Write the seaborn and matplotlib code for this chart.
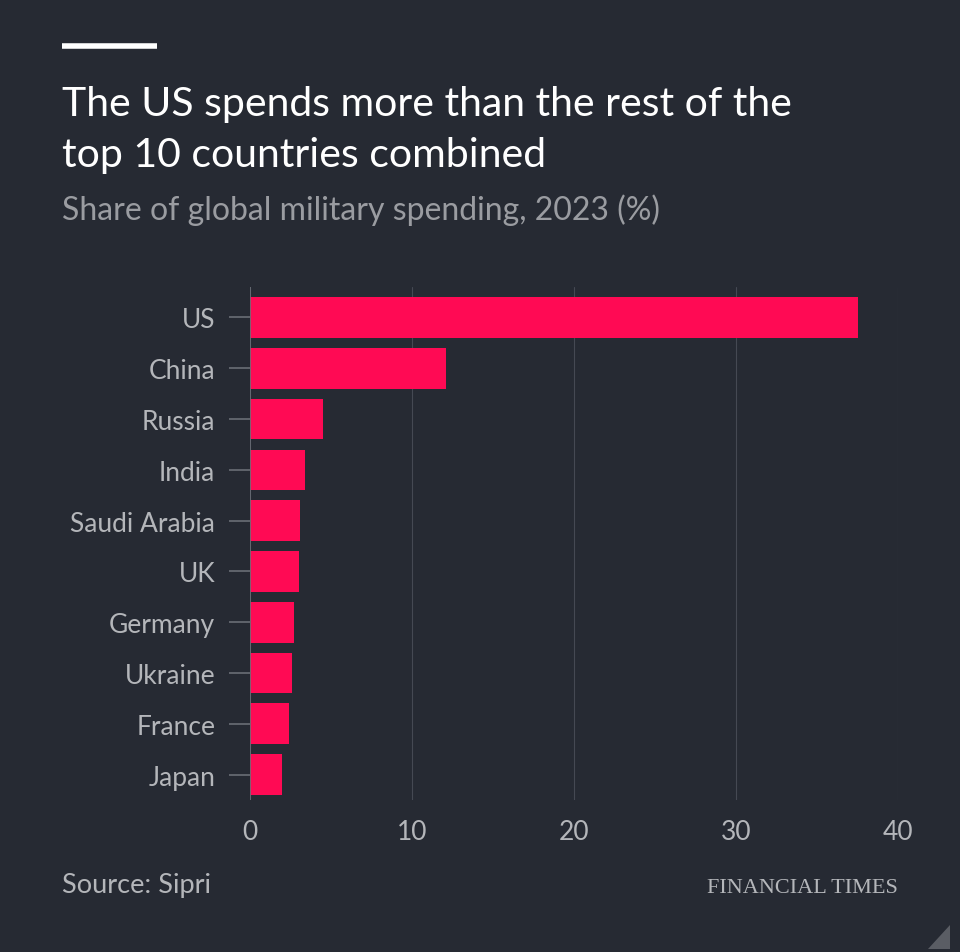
import matplotlib
matplotlib.use("Agg")
import matplotlib.pyplot as plt
import seaborn as sns
import pandas as pd
from matplotlib.patches import Polygon
from matplotlib.lines import Line2D

countries = ["US", "China", "Russia", "India", "Saudi Arabia", "UK",
             "Germany", "Ukraine", "France", "Japan"]
share = [37.5, 12.1, 4.5, 3.4, 3.1, 3.0, 2.7, 2.6, 2.4, 2.0]
xticks = [0, 10, 20, 30, 40]

BG = "#262a33"
BAR = "#ff0a54"
GRID = "#454953"
TXT = "#b4b6ba"

sns.set_theme(style="dark")
plt.rcParams["font.family"] = ["Lato", "DejaVu Sans"]

fig = plt.figure(figsize=(9.6, 9.53), dpi=100, facecolor=BG)
ax = fig.add_axes([250/960, 1-801/953, (898-250)/960, (801-288)/953])
ax.set_facecolor(BG)

df = pd.DataFrame({"country": countries, "share": share})
sns.barplot(data=df, x="share", y="country", color=BAR, width=0.8,
            saturation=1, ax=ax, zorder=3)
for p in ax.patches:
    p.set_edgecolor("none")

ax.set_xlim(0, 40)
ax.set_ylim(9.5, -0.6)
ax.set_xticks(xticks)
ax.set_xticklabels([str(t) for t in xticks])
ax.set_xlabel("")
ax.set_ylabel("")
for s in ax.spines.values():
    s.set_visible(False)
ax.grid(axis="x", color=GRID, linewidth=0.8, zorder=0)
ax.grid(axis="y", visible=False)
ax.axvline(0, color="#6a6e76", linewidth=1.2, zorder=4)
ax.tick_params(axis="y", length=15, width=1.2, color="#6a6e76", pad=10,
               labelsize=19, labelcolor=TXT, left=True)
ax.tick_params(axis="x", length=0, pad=14, labelsize=19, labelcolor=TXT)

# Top decoration line
fig.add_artist(Line2D([62/960, 157/960], [1-47/953, 1-47/953],
                      color="white", linewidth=4, solid_capstyle="butt",
                      transform=fig.transFigure))

fig.text(62/960, 1-116/953, "The US spends more than the rest of the",
         color="white", fontsize=29.5, ha="left", va="baseline")
fig.text(62/960, 1-167/953, "top 10 countries combined",
         color="white", fontsize=29.5, ha="left", va="baseline")
fig.text(62/960, 1-220/953, "Share of global military spending, 2023 (%)",
         color="#9a9ca1", fontsize=23, ha="left", va="baseline")

fig.text(62/960, 1-893/953, "Source: Sipri", color=TXT, fontsize=19.5,
         ha="left", va="baseline")
fig.text(898/960, 1-893/953, "FINANCIAL TIMES", color=TXT, fontsize=16,
         ha="right", va="baseline", family=["Liberation Serif", "DejaVu Serif"])

fig.add_artist(Polygon([[950/960, 1-926/953], [950/960, 1-950/953],
                        [928/960, 1-950/953]], closed=True,
                       facecolor="#5a5d64", edgecolor="none",
                       transform=fig.transFigure))

fig.savefig("out.png", dpi=100, facecolor=BG)
